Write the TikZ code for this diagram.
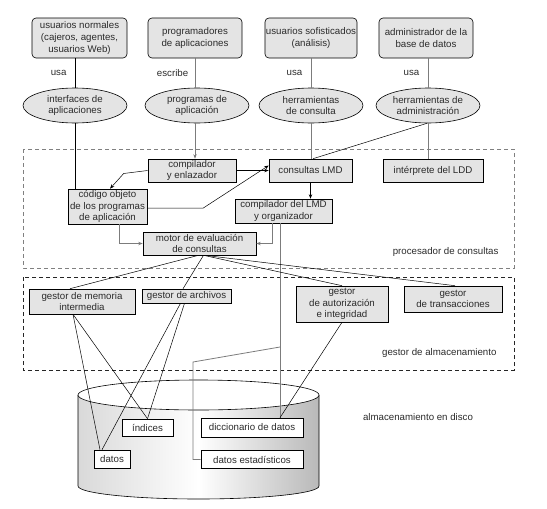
\documentclass[tikz,border=0pt]{standalone}
\usepackage{fontspec}
\setmainfont{Liberation Sans}
\usetikzlibrary{arrows.meta, positioning, shapes.geometric}
\definecolor{cfill}{HTML}{E4E4E4}
\definecolor{cline}{HTML}{7C7C7C}
\definecolor{ctext}{HTML}{2B2B2B}

\begin{document}
\begin{tikzpicture}[
  x=1pt, y=-1pt,
  font=\fontsize{9.7}{11.6}\selectfont,
  >={Stealth[length=4.5pt, width=3.4pt]},
  userbox/.style={draw, rounded corners=4pt, fill=cfill, align=center, inner sep=1pt,
               line width=0.6pt, text=ctext},
  toolbox/.style={draw, ellipse, fill=cfill, align=center, inner sep=0pt,
               line width=0.6pt, text=ctext, minimum width=104pt, minimum height=35pt},
  procbox/.style={draw, fill=cfill, align=center, inner sep=1pt, line width=0.6pt, text=ctext},
  diskbox/.style={draw, fill=white, align=center, inner sep=1pt, line width=0.6pt, text=ctext},
  zone/.style={dash pattern=on 4pt off 3pt, line width=0.8pt},
  arr/.style={->, line width=0.5pt},
  garr/.style={-{Stealth[length=4.5pt, width=3.4pt, fill=black]}, line width=0.8pt, draw=cline},
  link/.style={line width=0.5pt},
  glink/.style={line width=0.8pt, draw=cline},
  lbl/.style={text=ctext},
  ]
\useasboundingbox (0,0) rectangle (547,509);

% disco
\shade[left color=gray!30, right color=gray!55, middle color=white]
  (78,395) -- (78,486) arc[start angle=180, end angle=360, x radius=120.5pt, y radius=13pt]
  -- (319,395) -- cycle;
\draw[line width=0.6pt] (78,395) -- (78,486)
  arc[start angle=180, end angle=360, x radius=120.5pt, y radius=13pt] -- (319,395);
\draw[line width=0.6pt, fill=white] (198.5,395) ellipse [x radius=120.5pt, y radius=15pt];

% zonas
\draw[zone, draw=gray] (23,149) rectangle (514,268);
\draw[zone, draw=black!85] (23,277) rectangle (514,370);
\node[lbl, anchor=east] (qplabel) at (502,252) {procesador de consultas};
\node[lbl, anchor=east] (smlabel) at (500,353) {gestor de almacenamiento};
\node[lbl] (disklabel) at (418,417) {almacenamiento en disco};

\node[userbox, minimum width=95pt, minimum height=40pt] (naive) at (79.5,38)
  {usuarios normales\\(cajeros, agentes,\\usuarios Web)};
\node[userbox, minimum width=94pt, minimum height=40pt] (progr) at (195,38)
  {programadores\\de aplicaciones};
\node[userbox, minimum width=92pt, minimum height=40pt] (sophist) at (311,38)
  {usuarios sofisticados\\(análisis)};
\node[userbox, minimum width=94pt, minimum height=40pt] (dba) at (426,38)
  {administrador de la\\base de datos};

\node[toolbox] (iface) at (75,105.5) {interfaces de\\aplicaciones};
\node[toolbox] (aprog) at (197,105.5) {programas de\\aplicación};
\node[toolbox] (qtools) at (311,105.5) {herramientas\\de consulta};
\node[toolbox] (atools) at (428,105.5) {herramientas de\\administración};

\node[procbox, minimum width=88pt, minimum height=23pt] (compiler) at (192,170.5)
  {compilador\\y enlazador};
\node[procbox, minimum width=83pt, minimum height=23pt] (dml) at (310.5,170.5) {consultas LMD};
\node[procbox, minimum width=100pt, minimum height=23pt] (ddl) at (433,170.5) {intérprete del LDD};
\node[procbox, minimum width=79pt, minimum height=35pt] (objcode) at (107.5,206.5)
  {código objeto\\de los programas\\de aplicación};
\node[procbox, minimum width=97pt, minimum height=24pt] (dmlc) at (283.5,211)
  {compilador del LMD\\y organizador};
\node[procbox, minimum width=113pt, minimum height=23pt] (engine) at (199.5,243.5)
  {motor de evaluación\\de consultas};

\node[procbox, minimum width=106pt, minimum height=25pt] (buffer) at (82,301.5)
  {gestor de memoria\\intermedia};
\node[procbox, minimum width=89pt, minimum height=14pt] (files) at (186.5,296)
  {gestor de archivos};
\node[procbox, minimum width=92pt, minimum height=36pt] (auth) at (342,304)
  {gestor\\de autorización\\e integridad};
\node[procbox, minimum width=98pt, minimum height=26pt] (trans) at (453,299)
  {gestor\\de transacciones};

\node[diskbox, minimum width=51pt, minimum height=17pt] (idx) at (147.5,427.5) {índices};
\node[diskbox, minimum width=36pt, minimum height=18pt] (data) at (112,459) {datos};
\node[diskbox, minimum width=102pt, minimum height=19pt] (dict) at (252,427.5) {diccionario de datos};
\node[diskbox, minimum width=102pt, minimum height=18pt] (stats) at (252,459.5) {datos estadísticos};

\draw[link] (iface.north) -- (iface.north |- naive.south)
  node[lbl, midway, left=5pt] {usa};
\draw[glink] (aprog.north -| progr.south) -- (progr.south)
  node[lbl, midway, left=3pt] {escribe};
\draw[glink] (qtools.north) -- (qtools.north |- sophist.south)
  node[lbl, midway, left=5pt] {usa};
\draw[glink] (atools.north) -- (atools.north |- dba.south)
  node[lbl, midway, left=5pt] {usa};

\draw[link] (iface.south) -- (iface.south |- objcode.north);
\draw[garr] ([xshift=-2pt]aprog.south) -- ([xshift=-2pt]aprog.south |- compiler.north);
\draw[glink] (qtools.south) -- (qtools.south |- dml.north);
\draw[glink] (atools.south) -- (atools.south |- ddl.north);
\draw[link] ([xshift=-1pt]atools.south) -- ([xshift=2.5pt]dml.north);

\draw[arr] (compiler.east) -- (dml.west);
\draw[arr] (compiler.west) -- ++(-24,3) -- ([xshift=2.5pt]objcode.north);
\draw[arr] ([yshift=-1.5pt]objcode.east) -- ++(56,0) -- ([yshift=5pt]dml.west);
\draw[arr] (dml.south) -- (dml.south |- dmlc.north);
\draw[garr] ([xshift=11.5pt]objcode.south) |- (engine.west);
\draw[garr] ([xshift=-11.5pt]dmlc.south) |- (engine.east);

\draw[glink] ([xshift=-3.5pt]dmlc.south) -- ([xshift=28pt]dict.north);
\coordinate (fork) at (280,347);
\coordinate (bend) at (193,362);
\draw[glink] (fork) -- (bend) |- (stats.west);

\draw[link] ([xshift=-1pt]engine.south) -- ([xshift=-12pt]buffer.north);
\draw[link] ([xshift=4pt]engine.south) -- ([xshift=-3.5pt]files.north);
\draw[link] ([xshift=4pt]engine.south) -- (auth.north);
\draw[link] ([xshift=5pt]engine.south) -- ([xshift=2pt]trans.north);

\draw[link] ([xshift=-9pt]buffer.south) -- ([xshift=-12pt]data.north);
\draw[link] ([xshift=-9pt]buffer.south) -- (idx.north);
\draw[link] ([xshift=-6pt]files.south) -- ([xshift=-10pt]data.north);
\draw[link] ([xshift=-2pt]files.south) -- (idx.north);
\draw[link] (auth.south) -- ([xshift=28pt]dict.north);
\end{tikzpicture}
\end{document}
